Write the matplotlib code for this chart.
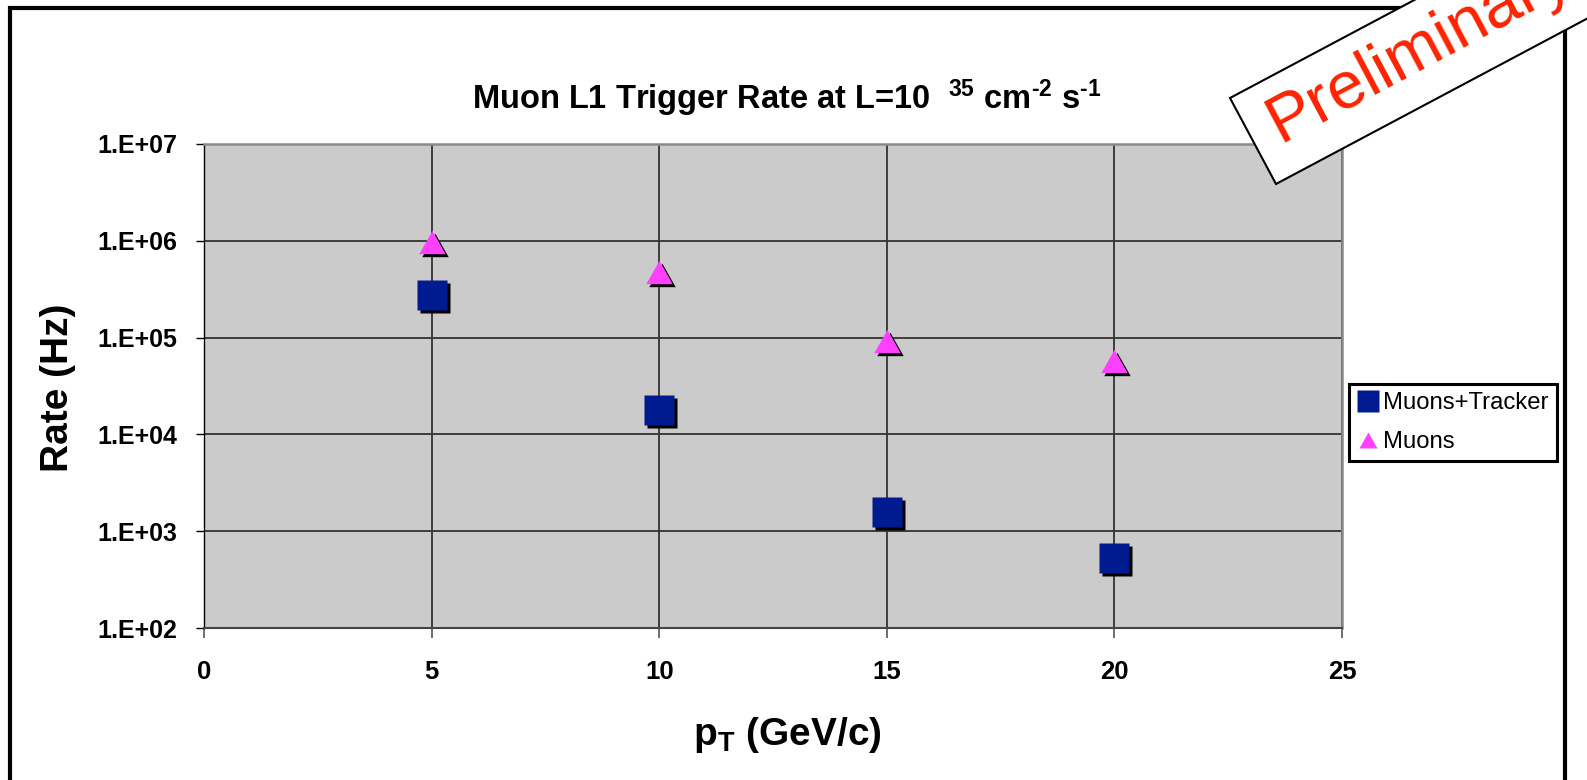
import numpy as np
import matplotlib.pyplot as plt
from matplotlib import transforms
from matplotlib.lines import Line2D
from matplotlib.patches import Polygon, Rectangle

W, H = 1587, 780  # output size in pixels

# ---- data ----
pt = [5, 10, 15, 20]
rate_muons_tracker = [2.75e5, 1.8e4, 1.57e3, 5.3e2]
rate_muons = [9.7e5, 4.75e5, 9.2e4, 5.7e4]
series_names = ['Muons+Tracker', 'Muons']
xticks = [0, 5, 10, 15, 20, 25]
xtick_labels = ['0', '5', '10', '15', '20', '25']
yticks = [1e2, 1e3, 1e4, 1e5, 1e6, 1e7]
ytick_labels = ['1.E+02', '1.E+03', '1.E+04', '1.E+05', '1.E+06', '1.E+07']
title = r'Muon L1 Trigger Rate at L=10  $^{35}$ cm$^{\text{-2}}$ s$^{\text{-1}}$'
stamp = 'Preliminary'

plt.rcParams['font.family'] = ['Liberation Sans', 'DejaVu Sans']
plt.rcParams['mathtext.fontset'] = 'custom'
plt.rcParams['mathtext.rm'] = 'Liberation Sans:bold'
plt.rcParams['mathtext.it'] = 'Liberation Sans:bold'
plt.rcParams['mathtext.bf'] = 'Liberation Sans:bold'

navy = '#001a8f'
pink = '#ff40ff'
tri = [(-0.565, -0.5), (0.565, -0.5), (0, 0.5)]  # slightly wide triangle


def fx(x):
    return x / W


def fy(y):
    return 1 - y / H


fig = plt.figure(figsize=(W / 100, H / 100), dpi=100)
fig.patch.set_facecolor('white')

# outer frame (bottom edge falls off the picture)
fig.add_artist(Rectangle((fx(10), fy(800)), 1555 / W, 792 / H, fill=False,
                         ec='black', lw=3, transform=fig.transFigure, zorder=1))

ax = fig.add_axes([fx(204), fy(628), 1138 / W, 484 / H])
ax.set_facecolor('#cbcbcb')
ax.set_yscale('log')
ax.set_xlim(0, 25)
ax.set_ylim(1e2, 1e7)
ax.set_axisbelow(True)
ax.grid(True, which='major', color='#333333', lw=1.3)

# markers with a small black drop shadow
shadow = transforms.offset_copy(ax.transData, fig=fig, x=3, y=-3, units='dots')
ax.plot(pt, rate_muons_tracker, ls='none', marker='s', ms=21, mfc='black',
        mec='none', transform=shadow, zorder=3)
ax.plot(pt, rate_muons_tracker, ls='none', marker='s', ms=21, mfc=navy,
        mec='none', zorder=4)
ax.plot(pt, rate_muons, ls='none', marker=tri, ms=19, mfc='black',
        mec='none', transform=shadow, zorder=3)
ax.plot(pt, rate_muons, ls='none', marker=tri, ms=19, mfc=pink,
        mec='none', zorder=4)

ax.set_xticks(xticks, labels=xtick_labels, fontsize=18.5, fontweight='bold')
ax.set_yticks(yticks, labels=ytick_labels, fontsize=18, fontweight='bold')
ax.yaxis.set_minor_locator(plt.NullLocator())
ax.tick_params(axis='y', direction='out', length=6, width=1, color='black', pad=13)
ax.tick_params(axis='x', direction='out', length=7, width=1.2, color='#555555', pad=16)

ax.spines['left'].set_color('black')
ax.spines['left'].set_linewidth(1)
for s in ['top', 'right']:
    ax.spines[s].set_color('#8a8a8a')
    ax.spines[s].set_linewidth(1.8)
ax.spines['bottom'].set_color('#444444')
ax.spines['bottom'].set_linewidth(1.5)

# titles
fig.text(fx(787), fy(109), title, ha='center', va='baseline',
         fontsize=23.5, fontweight='bold')
fig.text(fx(58), fy(388), 'Rate (Hz)', rotation=90, ha='center', va='center',
         fontsize=28, fontweight='bold')
fig.text(fx(787), fy(735), r'p$_{\mathrm{T}}$ (GeV/c)', ha='center', va='center',
         fontsize=28, fontweight='bold')

# legend
handles = [Line2D([], [], ls='none', marker='s', ms=16, mfc=navy, mec='none'),
           Line2D([], [], ls='none', marker=tri, ms=13, mfc=pink, mec='none')]
leg = ax.legend(handles, series_names, loc='upper left',
                bbox_to_anchor=(fx(1349), fy(384)), bbox_transform=fig.transFigure,
                borderaxespad=0, fontsize=17.2, handlelength=0.9, handletextpad=0.2,
                borderpad=0.33, labelspacing=0.72, fancybox=False, framealpha=1)
leg.get_frame().set_edgecolor('black')
leg.get_frame().set_linewidth(2.2)

# "Preliminary" stamp, rotated box running off the top right corner
ang = np.deg2rad(28)
u = np.array([np.cos(ang), -np.sin(ang)])
A = np.array([1276, 184])
B = np.array([1230, 98])
L = 440
corners = [A, A + L * u, B + L * u, B]
fig.add_artist(Polygon([(fx(p[0]), fy(p[1])) for p in corners], closed=True,
                       fc='white', ec='black', lw=1.5, transform=fig.transFigure,
                       zorder=10))
fig.text(fx(1280), fy(143), stamp, rotation=28, rotation_mode='anchor',
         ha='left', va='baseline', fontsize=48, color='#ff2200', zorder=11)

plt.savefig('out.png', dpi=100)
